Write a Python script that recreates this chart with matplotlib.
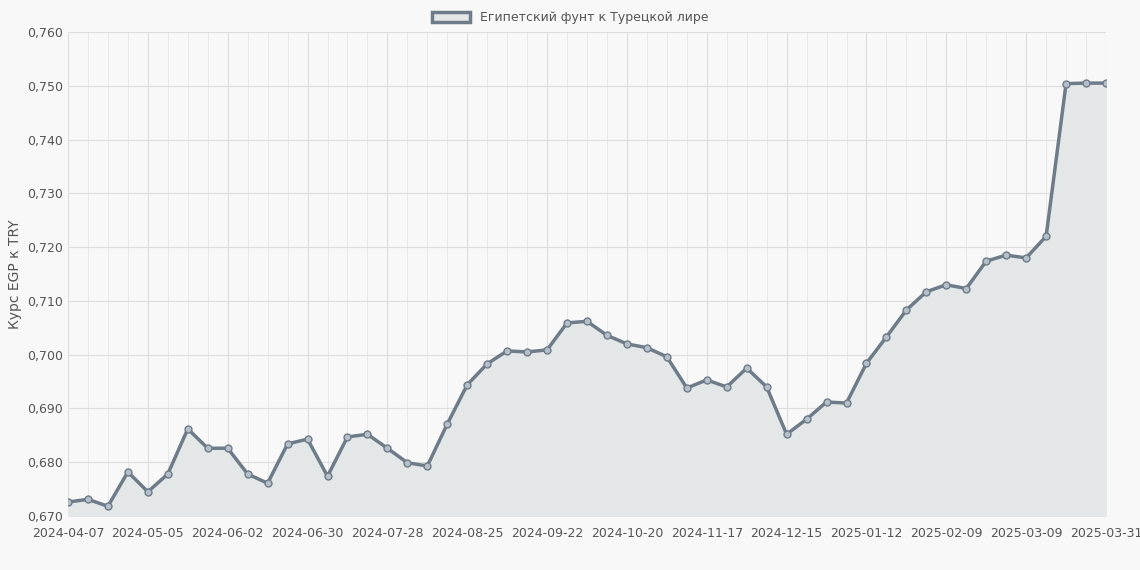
import matplotlib
matplotlib.use("Agg")
import matplotlib.pyplot as plt
import numpy as np

values = [0.6726,0.6731,0.6718,0.6782,0.6745,0.6778,0.6862,0.6826,0.6826,0.6778,
          0.6761,0.6834,0.6843,0.6774,0.6847,0.6852,0.6826,0.6799,0.6793,0.6871,
          0.6944,0.6983,0.7007,0.7005,0.7009,0.7059,0.7062,0.7036,0.7020,0.7013,
          0.6996,0.6938,0.6953,0.6940,0.6975,0.6940,0.6852,0.6880,0.6912,0.6910,
          0.6984,0.7033,0.7083,0.7117,0.7130,0.7123,0.7174,0.7185,0.7180,0.7220,
          0.7504,0.7505,0.7505]
tick_labels = ["2024-04-07","2024-05-05","2024-06-02","2024-06-30","2024-07-28",
               "2024-08-25","2024-09-22","2024-10-20","2024-11-17","2024-12-15",
               "2025-01-12","2025-02-09","2025-03-09","2025-03-31"]
tick_pos = list(range(0, 49, 4)) + [52]
y_ticks = [0.67,0.68,0.69,0.70,0.71,0.72,0.73,0.74,0.75,0.76]

bg = "#f8f8f8"
fig = plt.figure(figsize=(11.4,5.7), dpi=100, facecolor=bg)
ax = fig.add_axes([68/1140, 1-516/570, (1106-68)/1140, (516-32)/570], facecolor=bg)
x = np.arange(len(values))
col = "#6e7b88"
ax.fill_between(x, values, 0.67, color="#e4e7e8", zorder=1)
ax.plot(x, values, color=col, lw=2.5, zorder=3)
ax.scatter(x, values, s=25, facecolor="#b5bfc9", edgecolor=col, lw=1, zorder=4)
ax.set_xlim(0, len(values)-1)
ax.set_ylim(0.67, 0.76)
ax.set_xticks(x, minor=True)
ax.set_xticks(tick_pos)
ax.set_xticklabels(tick_labels)
ax.set_yticks(y_ticks)
ax.set_yticklabels([f"{v:.3f}".replace(".", ",") for v in y_ticks])
ax.grid(True, which="major", color="#dddddd", lw=0.8)
ax.grid(True, which="minor", axis="x", color="#e6e6e6", lw=0.6)
ax.tick_params(which="both", length=0, colors="#555555", labelsize=9)
ax.tick_params(axis="x", pad=8)
for s in ax.spines.values():
    s.set_visible(False)
ax.set_ylabel("Курс EGP к TRY", color="#555555", fontsize=10)
ax.set_axisbelow(True)
fig.legend(handles=[plt.Rectangle((0,0),1,1, facecolor="#e4e7e8", edgecolor=col, lw=2.5)],
           labels=["Египетский фунт к Турецкой лире"], loc="upper center",
           bbox_to_anchor=(0.5, 1.0), frameon=False, fontsize=9, labelcolor="#555555",
           handlelength=3, handleheight=0.9)
fig.savefig("out.png", dpi=100, facecolor=bg)
